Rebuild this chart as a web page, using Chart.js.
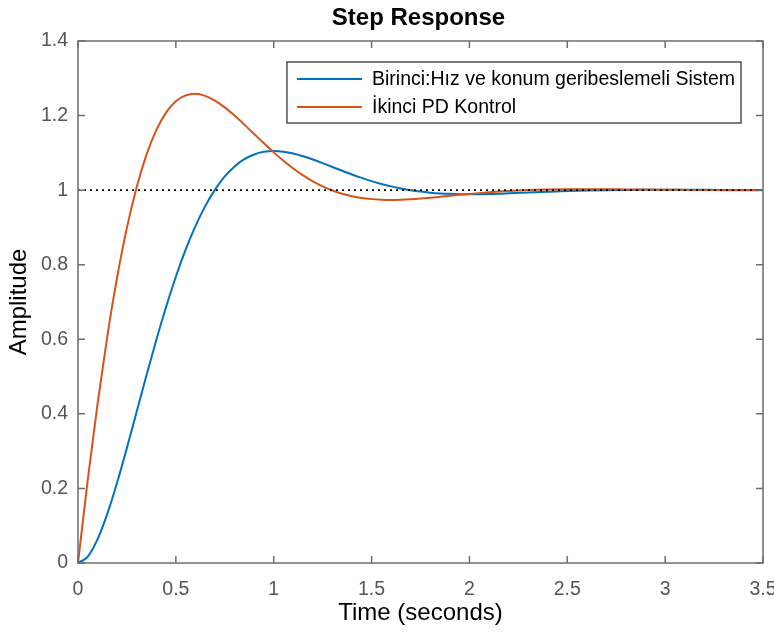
<!DOCTYPE html>
<html>
<head>
<meta charset="utf-8">
<script src="https://cdn.jsdelivr.net/npm/chart.js@4/dist/chart.umd.min.js"></script>
<style>
  html, body { margin: 0; padding: 0; background: #ffffff; }
  #wrap { width: 774px; height: 633px; position: relative; }
</style>
</head>
<body>
<div id="wrap"><canvas id="c"></canvas></div>
<script>
// ---------- data ----------
const chartTitle = 'Step Response';
const xAxisLabel = 'Time (seconds)';
const yAxisLabel = 'Amplitude';
const seriesNames = ['Birinci:Hız ve konum geribeslemeli Sistem', 'İkinci PD Kontrol'];

const timeValues = [0, 0.05, 0.1, 0.15, 0.2, 0.25, 0.3, 0.35, 0.4, 0.45, 0.5, 0.55, 0.6, 0.65, 0.7, 0.75, 0.8, 0.85, 0.9, 0.95,
  1.0, 1.05, 1.1, 1.15, 1.2, 1.25, 1.3, 1.35, 1.4, 1.45, 1.5, 1.55, 1.6, 1.65, 1.7, 1.75, 1.8, 1.85, 1.9, 1.95,
  2.0, 2.1, 2.2, 2.3, 2.4, 2.5, 2.6, 2.7, 2.8, 2.9, 3.0, 3.1, 3.2, 3.3, 3.4, 3.5];

const birinciValues = [0, 0.0174, 0.0640, 0.1325, 0.2161, 0.3090, 0.4062, 0.5035, 0.5978, 0.6865, 0.7677, 0.8403, 0.9035, 0.9572, 1.0015, 1.0368, 1.0637, 1.0831, 1.0957, 1.1027,
  1.1048, 1.1029, 1.0981, 1.0909, 1.0821, 1.0724, 1.0622, 1.0520, 1.0421, 1.0328, 1.0243, 1.0167, 1.0101, 1.0045, 0.9998, 0.9961, 0.9933, 0.9913, 0.9900, 0.9892,
  0.9890, 0.9897, 0.9914, 0.9935, 0.9956, 0.9975, 0.9989, 1.0000, 1.0007, 1.0011, 1.0012, 1.0011, 1.0009, 1.0007, 1.0005, 1.0003];

const ikinciValues = [0, 0.2235, 0.4274, 0.6089, 0.7664, 0.8995, 1.0087, 1.0953, 1.1610, 1.2078, 1.2381, 1.2541, 1.2583, 1.2529, 1.2402, 1.2219, 1.1999, 1.1757, 1.1506, 1.1255,
  1.1013, 1.0787, 1.0580, 1.0396, 1.0237, 1.0102, 0.9991, 0.9903, 0.9837, 0.9789, 0.9759, 0.9743, 0.9738, 0.9744, 0.9757, 0.9775, 0.9797, 0.9822, 0.9848, 0.9873,
  0.9897, 0.9941, 0.9976, 1.0001, 1.0016, 1.0024, 1.0027, 1.0025, 1.0020, 1.0015, 1.0010, 1.0006, 1.0002, 1.0000, 0.9998, 0.9998];

const referenceTimes = [0, 3.5];
const referenceLevel = [1, 1];

const xTickValues = [0, 0.5, 1, 1.5, 2, 2.5, 3, 3.5];
const xTickLabels = ['0', '0.5', '1', '1.5', '2', '2.5', '3', '3.5'];
const yTickValues = [0, 0.2, 0.4, 0.6, 0.8, 1, 1.2, 1.4];
const yTickLabels = ['0', '0.2', '0.4', '0.6', '0.8', '1', '1.2', '1.4'];

// ---------- styling ----------
const FONT = "'Liberation Sans', Arial, Helvetica, sans-serif";
const BLUE = '#0072BD';
const ORANGE = '#D95319';
const AXIS_GRAY = '#6e6e6e';
const TICK_TEXT = '#555555';

const toPoints = (xs, ys) => xs.map((x, i) => ({ x: x, y: ys[i] }));
const labelFor = (vals, labels) => (v) => {
  const i = vals.findIndex(t => Math.abs(t - v) < 1e-9);
  return i >= 0 ? labels[i] : '';
};

const framePlugin = {
  id: 'frame',
  afterDatasetsDraw(chart) {
    const { ctx, chartArea: a, scales } = chart;
    const xs = scales.x, ys = scales.y;
    ctx.save();
    ctx.strokeStyle = AXIS_GRAY;
    ctx.lineWidth = 1.5;
    ctx.strokeRect(a.left, a.top, a.right - a.left, a.bottom - a.top);
    const tl = 7;
    ctx.beginPath();
    xTickValues.forEach(v => {
      const px = xs.getPixelForValue(v);
      ctx.moveTo(px, a.bottom); ctx.lineTo(px, a.bottom - tl);
      ctx.moveTo(px, a.top); ctx.lineTo(px, a.top + tl);
    });
    yTickValues.forEach(v => {
      const py = ys.getPixelForValue(v);
      ctx.moveTo(a.left, py); ctx.lineTo(a.left + tl, py);
      ctx.moveTo(a.right, py); ctx.lineTo(a.right - tl, py);
    });
    ctx.stroke();
    ctx.restore();
  },
  afterDraw(chart) {
    const { ctx, chartArea: a } = chart;
    ctx.save();
    // title centred over the axes
    ctx.fillStyle = '#000000';
    ctx.font = 'bold 24px ' + FONT;
    ctx.textAlign = 'center';
    ctx.textBaseline = 'middle';
    ctx.fillText(chartTitle, (a.left + a.right) / 2 - 2, 18);

    // legend inside the plot area, top right
    ctx.font = '19.5px ' + FONT;
    const textW = Math.max(...seriesNames.map(s => ctx.measureText(s).width));
    const boxRight = a.right - 22;
    const boxLeft = boxRight - (84 + textW + 7);
    const boxTop = a.top + 21;
    const boxH = 61;
    ctx.fillStyle = '#ffffff';
    ctx.fillRect(boxLeft, boxTop, boxRight - boxLeft, boxH);
    ctx.strokeStyle = '#262626';
    ctx.lineWidth = 1.2;
    ctx.strokeRect(boxLeft, boxTop, boxRight - boxLeft, boxH);
    const colors = [BLUE, ORANGE];
    seriesNames.forEach((name, i) => {
      const cy = boxTop + 17 + i * 28;
      ctx.strokeStyle = colors[i];
      ctx.lineWidth = 2;
      ctx.beginPath();
      ctx.moveTo(boxLeft + 10, cy);
      ctx.lineTo(boxLeft + 75, cy);
      ctx.stroke();
      ctx.fillStyle = '#000000';
      ctx.textAlign = 'left';
      ctx.textBaseline = 'middle';
      ctx.fillText(name, boxLeft + 85, cy + 1);
    });
    ctx.restore();
  }
};

new Chart(document.getElementById('c'), {
  type: 'scatter',
  data: {
    datasets: [
      {
        label: seriesNames[0],
        data: toPoints(timeValues, birinciValues),
        showLine: true,
        borderColor: BLUE,
        backgroundColor: BLUE,
        borderWidth: 2,
        pointRadius: 0,
        cubicInterpolationMode: 'monotone',
        order: 2
      },
      {
        label: seriesNames[1],
        data: toPoints(timeValues, ikinciValues),
        showLine: true,
        borderColor: ORANGE,
        backgroundColor: ORANGE,
        borderWidth: 2,
        pointRadius: 0,
        cubicInterpolationMode: 'monotone',
        order: 1
      },
      {
        label: 'reference',
        data: toPoints(referenceTimes, referenceLevel),
        showLine: true,
        borderColor: '#000000',
        borderWidth: 1.6,
        borderDash: [2, 4],
        pointRadius: 0,
        order: 0
      }
    ]
  },
  options: {
    responsive: true,
    maintainAspectRatio: false,
    animation: false,
    devicePixelRatio: 1,
    layout: { padding: { top: 41, right: 11, left: 0, bottom: 0 } },
    plugins: {
      legend: { display: false },
      title: { display: false },
      tooltip: { enabled: false }
    },
    scales: {
      x: {
        type: 'linear',
        min: 0,
        max: 3.5,
        grid: { display: false, drawTicks: false },
        border: { display: false },
        afterBuildTicks: (s) => { s.ticks = xTickValues.map(v => ({ value: v })); },
        ticks: {
          color: TICK_TEXT,
          font: { family: FONT, size: 19.5 },
          padding: 15,
          maxRotation: 0,
          autoSkip: false,
          callback: labelFor(xTickValues, xTickLabels)
        },
        title: {
          display: true,
          text: xAxisLabel,
          color: '#000000',
          font: { family: FONT, size: 24 },
          padding: { top: 0, bottom: 5 }
        },
        afterFit: (s) => { s.height = 70; s.paddingLeft = 0; s.paddingRight = 0; }
      },
      y: {
        type: 'linear',
        min: 0,
        max: 1.4,
        grid: { display: false, drawTicks: false },
        border: { display: false },
        afterBuildTicks: (s) => { s.ticks = yTickValues.map(v => ({ value: v })); },
        ticks: {
          color: TICK_TEXT,
          font: { family: FONT, size: 19.5 },
          padding: 10,
          autoSkip: false,
          callback: labelFor(yTickValues, yTickLabels)
        },
        title: {
          display: true,
          text: yAxisLabel,
          color: '#000000',
          font: { family: FONT, size: 24 },
          padding: { top: 5, bottom: 0 }
        },
        afterFit: (s) => { s.width = 78; s.paddingTop = 0; s.paddingBottom = 0; }
      }
    }
  },
  plugins: [framePlugin]
});
</script>
</body>
</html>
